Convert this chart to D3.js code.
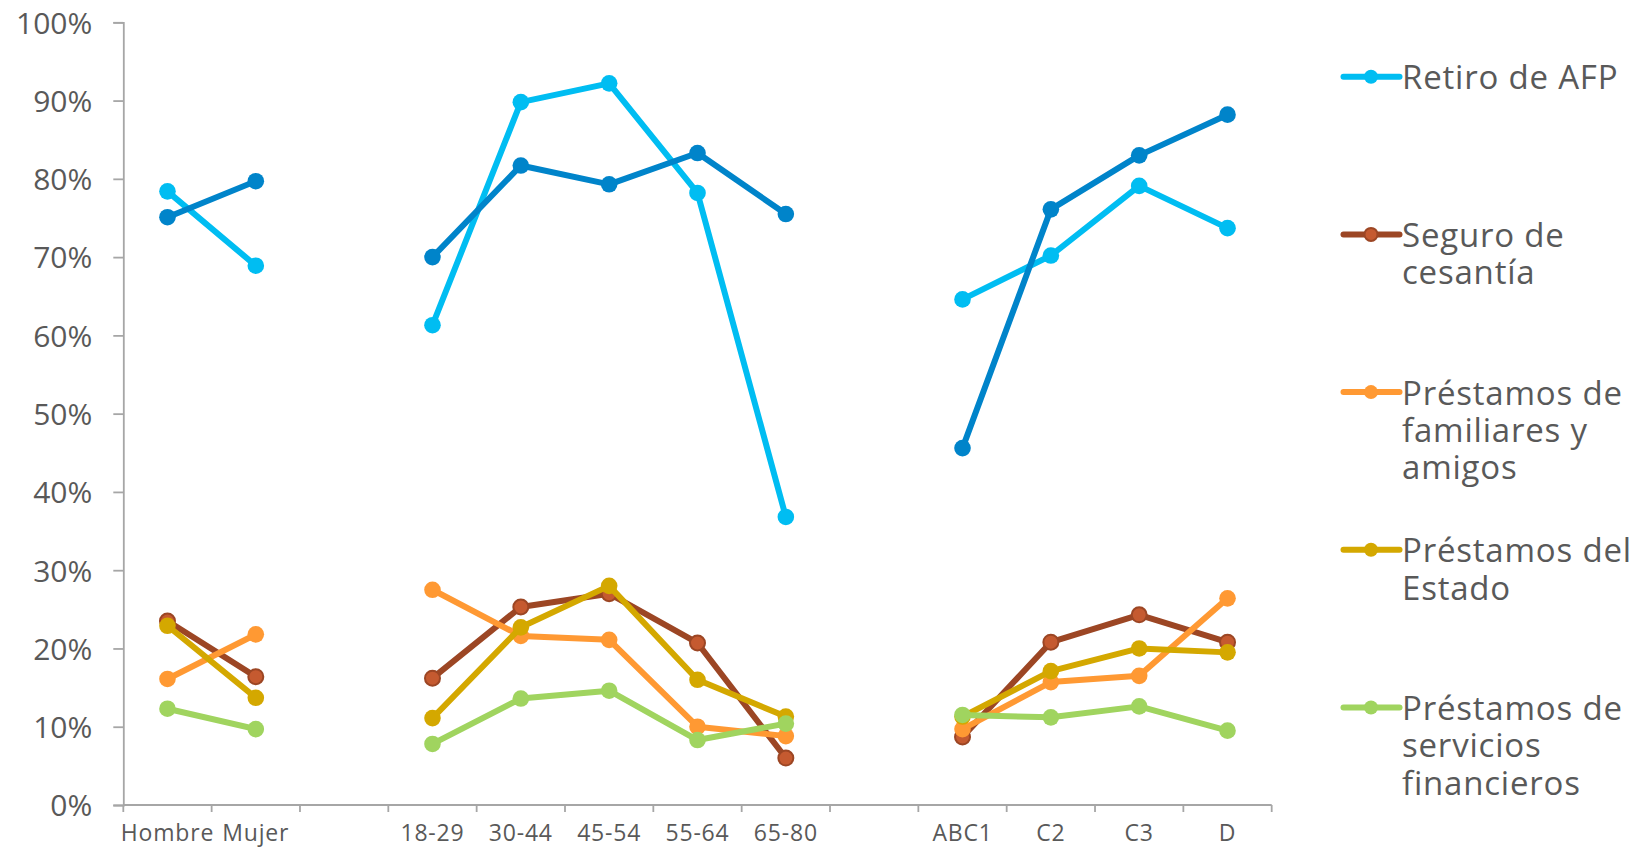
<!DOCTYPE html>
<html>
<head>
<meta charset="utf-8">
<script src="https://cdn.jsdelivr.net/npm/d3@7"></script>
<style>
  html, body { margin: 0; padding: 0; background: #fff; }
  svg { display: block; font-family: "Open Sans", "Noto Sans", sans-serif; }
</style>
</head>
<body>
<svg id="chart" width="1637" height="848"></svg>
<script>
// Categories (gap slots separate the groups)
const categories = ["Hombre", "Mujer", "gap1", "18-29", "30-44", "45-54", "55-64", "65-80", "gap2", "ABC1", "C2", "C3", "D"];
const categoryLabels = ["Hombre", "Mujer", "", "18-29", "30-44", "45-54", "55-64", "65-80", "", "ABC1", "C2", "C3", "D"];

// Series values in percent (null = gap slot)
const retiroAFP       = [78.4, 68.9, null, 61.3, 89.8, 92.2, 78.2, 36.8, null, 64.6, 70.2, 79.1, 73.7];
const serieAzulOscuro = [75.1, 79.7, null, 70.0, 81.7, 79.3, 83.3, 75.5, null, 45.6, 76.1, 83.0, 88.2];
const seguroCesantia  = [23.5, 16.4, null, 16.2, 25.3, 27.0, 20.7, 6.0, null, 8.7, 20.8, 24.3, 20.8];
const prestFamiliares = [16.1, 21.8, null, 27.5, 21.6, 21.1, 10.0, 8.8, null, 9.7, 15.7, 16.5, 26.4];
const prestEstado     = [22.9, 13.7, null, 11.1, 22.7, 28.0, 16.0, 11.3, null, 11.3, 17.1, 20.0, 19.5];
const prestServicios  = [12.3, 9.7, null, 7.8, 13.6, 14.6, 8.3, 10.4, null, 11.5, 11.2, 12.6, 9.5];

const yTicks = [0, 10, 20, 30, 40, 50, 60, 70, 80, 90, 100];

const seriesDefs = [
  { name: "Retiro de AFP", values: retiroAFP, color: "#00BDF2", marker: "#00BDF2", stroke: null, legend: ["Retiro de AFP"] },
  { name: "Serie azul", values: serieAzulOscuro, color: "#0084CA", marker: "#0084CA", stroke: null, legend: null },
  { name: "Seguro de cesantía", values: seguroCesantia, color: "#9C4624", marker: "#C55A30", stroke: "#9C4624", legend: ["Seguro de", "cesantía"] },
  { name: "Préstamos de familiares y amigos", values: prestFamiliares, color: "#FF9933", marker: "#FF9933", stroke: null, legend: ["Préstamos de", "familiares y", "amigos"] },
  { name: "Préstamos del Estado", values: prestEstado, color: "#D4A800", marker: "#D4A800", stroke: null, legend: ["Préstamos del", "Estado"] },
  { name: "Préstamos de servicios financieros", values: prestServicios, color: "#A0D45F", marker: "#A0D45F", stroke: null, legend: ["Préstamos de", "servicios", "financieros"] }
];

(function () {
const svg = d3.select("#chart");
const mLeft = 123.3, mRight = 1271.7, mTop = 22.3, mBottom = 805;

const x = d3.scaleBand().domain(categories).range([mLeft, mRight]).padding(0);
const y = d3.scaleLinear().domain([0, 100]).range([mBottom, mTop]);

const axisColor = "#A6A6A6";
const textColor = "#595959";

// Y axis
const yAxis = d3.axisLeft(y).tickValues(yTicks).tickFormat(d => d + "%").tickSize(10).tickPadding(21);
const gy = svg.append("g").attr("transform", `translate(${mLeft},0)`).call(yAxis);
gy.select(".domain").attr("stroke", axisColor).attr("stroke-width", 1.8);
gy.selectAll(".tick line").attr("stroke", axisColor).attr("stroke-width", 1.8);
gy.selectAll(".tick text").attr("fill", textColor).attr("font-size", 30).attr("font-family", "'Open Sans', sans-serif").attr("dy", "0.36em");

// X axis (ticks at band boundaries)
const gx = svg.append("g").attr("transform", `translate(0,${mBottom})`);
gx.append("line").attr("x1", mLeft).attr("x2", mRight).attr("y1", 0).attr("y2", 0)
  .attr("stroke", axisColor).attr("stroke-width", 1.8);
const boundaries = categories.map(c => x(c)).concat([x(categories[categories.length - 1]) + x.bandwidth()]);
gx.selectAll("line.tk").data(boundaries).join("line").attr("class", "tk")
  .attr("x1", d => d).attr("x2", d => d).attr("y1", 0).attr("y2", 7)
  .attr("stroke", axisColor).attr("stroke-width", 1.8);
gx.selectAll("text").data(categories).join("text")
  .attr("x", d => x(d) + x.bandwidth() / 2)
  .attr("y", 35.5)
  .attr("text-anchor", "middle")
  .attr("fill", textColor)
  .attr("font-size", 23)
  .attr("letter-spacing", 0.8)
  .text((d, i) => categoryLabels[i]);

// Lines and markers
const line = d3.line()
  .defined(d => d.v !== null)
  .x(d => x(d.c) + x.bandwidth() / 2)
  .y(d => y(d.v));

seriesDefs.forEach(s => {
  const pts = categories.map((c, i) => ({ c, v: s.values[i] }));
  const g = svg.append("g");
  g.append("path").datum(pts).attr("d", line)
    .attr("fill", "none").attr("stroke", s.color).attr("stroke-width", 6)
    .attr("stroke-linejoin", "round").attr("stroke-linecap", "round");
  g.selectAll("circle").data(pts.filter(p => p.v !== null)).join("circle")
    .attr("cx", d => x(d.c) + x.bandwidth() / 2)
    .attr("cy", d => y(d.v))
    .attr("r", s.stroke ? 7.5 : 8.3)
    .attr("fill", s.marker)
    .attr("stroke", s.stroke || "none")
    .attr("stroke-width", s.stroke ? 2 : 0);
});

// Legend
const legendItems = seriesDefs.filter(s => s.legend);
const legY0 = 76.7, legStep = 157.7;
const lg = svg.append("g");
legendItems.forEach((s, i) => {
  const cy = legY0 + i * legStep;
  lg.append("line").attr("x1", 1343.5).attr("x2", 1399.5).attr("y1", cy).attr("y2", cy)
    .attr("stroke", s.color).attr("stroke-width", 6).attr("stroke-linecap", "round");
  lg.append("circle").attr("cx", 1371).attr("cy", cy).attr("r", s.stroke ? 6.5 : 7)
    .attr("fill", s.marker).attr("stroke", s.stroke || "none").attr("stroke-width", s.stroke ? 2 : 0);
  const t = lg.append("text").attr("x", 1402).attr("y", cy + 12.6)
    .attr("fill", textColor).attr("font-size", 33).attr("letter-spacing", 0.8);
  s.legend.forEach((ln, j) => {
    t.append("tspan").attr("x", 1402).attr("y", cy + 12.6 + j * 37.3).text(ln);
  });
});
})();
</script>
</body>
</html>
